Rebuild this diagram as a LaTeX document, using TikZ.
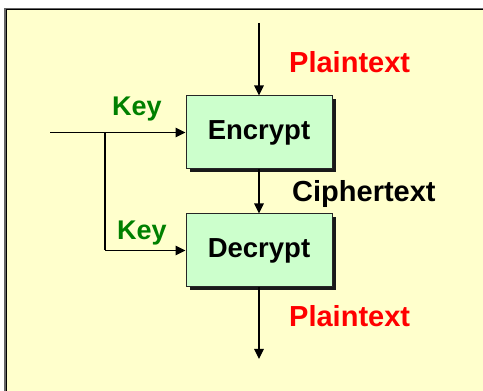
\documentclass[tikz,border=0pt]{standalone}
\usepackage{fontspec}
\setmainfont{Liberation Sans}
\usetikzlibrary{arrows.meta,shadows}
\definecolor{panelyellow}{HTML}{FFFFCC}
\definecolor{boxgreen}{HTML}{CCFFCC}
\definecolor{keygreen}{HTML}{008000}
\definecolor{ptred}{HTML}{FF0000}
\tikzset{
  x=1pt, y=1pt,
  procbox/.style={draw=black!85, line width=1pt, fill=boxgreen, minimum width=146pt, minimum height=73pt, inner sep=0pt,
    text height=15pt, text depth=0pt,
    font=\fontsize{27.5}{30}\selectfont\bfseries,
    drop shadow={shadow xshift=3.5pt, shadow yshift=-3.5pt, fill=black!90, opacity=1}},
  flow/.style={line width=1.2pt, -{Triangle[length=10pt,width=9.5pt]}},
  link/.style={line width=1.2pt},
  lbl/.style={inner sep=0pt, anchor=base west, font=\fontsize{29}{30}\selectfont\bfseries},
}
\begin{document}
\begin{tikzpicture}
\useasboundingbox (0,0) rectangle (483,391);
\clip (0,0) rectangle (483,391);
\fill[white] (0,0) rectangle (483,391);
\draw[fill=panelyellow, draw=black!60, line width=2.5pt] (5,382) rectangle (495,-10);
\draw[draw=black, line width=1pt] (6,-10) -- (6,381) -- (495,381);

\node[procbox] (enc) at (259,258.5) {Encrypt};
\node[procbox] (dec) at (259,140.5) {Decrypt};

\coordinate (ptin) at (259,368);
\coordinate (keyin) at (50,258.5);
\coordinate (branch) at (105,258.5);
\coordinate (branchlow) at (105,140.5);
\coordinate (ptout) at (259,32);

\draw[flow] (ptin) -- (enc.north);
\draw[flow] (keyin) -- (enc.west);
\draw[link] (branch) -- (branchlow);
\draw[flow] (branchlow) -- (dec.west);
\draw[flow] (enc.south) -- (dec.north);
\draw[flow] (dec.south) -- (ptout);

\node[lbl, text=ptred] (pt1) at (289,318) {Plaintext};
\node[lbl, text=keygreen, font=\fontsize{27}{30}\selectfont\bfseries] (key1) at (112,275) {Key};
\node[lbl, text=black] (ct) at (292,189.3) {Ciphertext};
\node[lbl, text=keygreen, font=\fontsize{27}{30}\selectfont\bfseries] (key2) at (117,151) {Key};
\node[lbl, text=ptred] (pt2) at (289,64.3) {Plaintext};
\end{tikzpicture}
\end{document}
